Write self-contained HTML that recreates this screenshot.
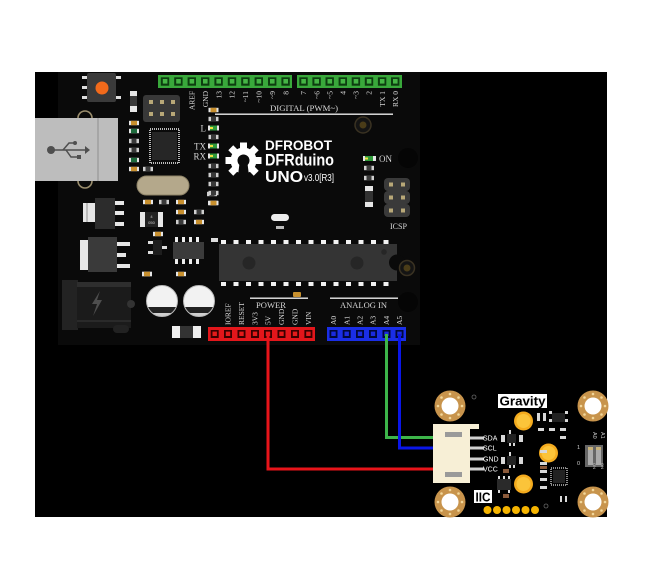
<!DOCTYPE html>
<html><head><meta charset="utf-8">
<style>html,body{margin:0;padding:0;background:#fff}svg{display:block}</style>
</head><body>
<svg width="667" height="587" viewBox="0 0 667 587" xmlns="http://www.w3.org/2000/svg">
<defs>
  <g id="smd"><rect x="-5" y="-2.2" width="10" height="4.4" fill="#cfcfcf"/><rect x="-2.5" y="-2.2" width="5" height="4.4" fill="#3a3a3a"/></g>
  <g id="smdt"><rect x="-5" y="-2.2" width="10" height="4.4" fill="#e6e6e6"/><rect x="-3" y="-2.2" width="6" height="4.4" fill="#c8902e"/></g>
  <g id="smdg"><rect x="-5" y="-2.2" width="10" height="4.4" fill="#e6e6e6"/><rect x="-3" y="-2.2" width="6" height="4.4" fill="#1d6b3c"/></g>
  <g id="gpin"><rect x="-4.2" y="-4.2" width="8.4" height="8.4" fill="#0d3d10"/><rect x="-2.2" y="-2.5" width="4.6" height="4.6" fill="#45b545"/></g>
  <g id="rpin"><rect x="-4" y="-4" width="8" height="8" fill="#3a0000"/><rect x="-2.2" y="-2.4" width="4.4" height="4.4" fill="#e51b1b"/></g>
  <g id="bpin"><rect x="-4" y="-4" width="8" height="8" fill="#00083a"/><rect x="-2.2" y="-2.4" width="4.4" height="4.4" fill="#1a2be0"/></g>
  <g id="hole">
    <circle r="15.5" fill="#c8944c"/>
    <circle r="8.5" fill="#fff"/>
    <circle cx="12" cy="0" r="1.3" fill="#f2d79a"/><circle cx="-12" cy="0" r="1.3" fill="#f2d79a"/>
    <circle cx="0" cy="12" r="1.3" fill="#f2d79a"/><circle cx="0" cy="-12" r="1.3" fill="#f2d79a"/>
    <circle cx="8.5" cy="8.5" r="1.3" fill="#f2d79a"/><circle cx="-8.5" cy="8.5" r="1.3" fill="#f2d79a"/>
    <circle cx="8.5" cy="-8.5" r="1.3" fill="#f2d79a"/><circle cx="-8.5" cy="-8.5" r="1.3" fill="#f2d79a"/>
  </g>
  <g id="led"><circle r="9.5" fill="#f4ab1e"/><circle r="7" fill="#fbc43a"/></g>
  <clipPath id="c1"><circle cx="162" cy="301" r="15.5"/></clipPath>
  <clipPath id="c2"><circle cx="199" cy="301" r="15.5"/></clipPath>
</defs>

<rect width="667" height="587" fill="#fff"/>
<rect x="35" y="72" width="572" height="445" fill="#000"/>

<!-- board -->
<path d="M58 72 H420 V345 H58 Z" fill="#0a0a0a"/>
<circle cx="408" cy="158" r="10" fill="#050505"/>
<circle cx="408" cy="302" r="10" fill="#050505"/>

<!-- green headers -->
<rect x="158" y="75" width="134" height="13" fill="#39a83b"/>
<rect x="297" y="75" width="105" height="13" fill="#39a83b"/>
<g>
<use href="#gpin" x="165" y="81.5"/><use href="#gpin" x="178.4" y="81.5"/><use href="#gpin" x="191.8" y="81.5"/><use href="#gpin" x="205.2" y="81.5"/><use href="#gpin" x="218.6" y="81.5"/><use href="#gpin" x="232" y="81.5"/><use href="#gpin" x="245.4" y="81.5"/><use href="#gpin" x="258.8" y="81.5"/><use href="#gpin" x="272.2" y="81.5"/><use href="#gpin" x="285.6" y="81.5"/>
<use href="#gpin" x="303.5" y="81.5"/><use href="#gpin" x="316.6" y="81.5"/><use href="#gpin" x="329.7" y="81.5"/><use href="#gpin" x="342.8" y="81.5"/><use href="#gpin" x="355.9" y="81.5"/><use href="#gpin" x="369" y="81.5"/><use href="#gpin" x="382.1" y="81.5"/><use href="#gpin" x="395.2" y="81.5"/>
</g>
<g font-family="Liberation Serif, serif" font-size="7.5" fill="#d8d8d8" text-anchor="end">
<text transform="translate(194.5,91) rotate(-90)">AREF</text>
<text transform="translate(207.9,91) rotate(-90)">GND</text>
<text transform="translate(221.3,91) rotate(-90)">13</text>
<text transform="translate(234.7,91) rotate(-90)">12</text>
<text transform="translate(248.1,91) rotate(-90)">~11</text>
<text transform="translate(261.5,91) rotate(-90)">~10</text>
<text transform="translate(274.9,91) rotate(-90)">~9</text>
<text transform="translate(288.3,91) rotate(-90)">8</text>
<text transform="translate(306.2,91) rotate(-90)">7</text>
<text transform="translate(319.3,91) rotate(-90)">~6</text>
<text transform="translate(332.4,91) rotate(-90)">~5</text>
<text transform="translate(345.5,91) rotate(-90)">4</text>
<text transform="translate(358.6,91) rotate(-90)">~3</text>
<text transform="translate(371.7,91) rotate(-90)">2</text>
<text transform="translate(384.8,91) rotate(-90)">TX 1</text>
<text transform="translate(397.9,91) rotate(-90)">RX 0</text>
</g>
<rect x="215" y="113.5" width="178" height="1.4" fill="#e8e8e8"/>
<text x="270" y="111" font-family="Liberation Serif, serif" font-size="8.5" fill="#d8d8d8" textLength="68" lengthAdjust="spacingAndGlyphs">DIGITAL (PWM~)</text>

<!-- reset button -->
<rect x="82" y="76" width="5" height="3" fill="#ddd"/><rect x="82" y="86" width="5" height="3" fill="#ddd"/><rect x="82" y="96" width="5" height="3" fill="#ddd"/>
<rect x="116" y="76" width="5" height="3" fill="#ddd"/><rect x="116" y="96" width="5" height="3" fill="#ddd"/>
<rect x="87" y="73" width="29" height="29" rx="2" fill="#3a3a3a"/>
<circle cx="102" cy="88" r="6.5" fill="#f26a1b"/>

<!-- USB -->
<circle cx="85" cy="118" r="7" fill="none" stroke="#9c8f6e" stroke-width="1.6"/>
<circle cx="85" cy="181" r="7" fill="none" stroke="#9c8f6e" stroke-width="1.6"/>
<rect x="35" y="118" width="83" height="63" fill="#bdbdbd"/>
<rect x="97.5" y="118" width="1" height="63" fill="#8f8f8f"/>
<g stroke="#4f4f4f" stroke-width="1.5" fill="none">
  <path d="M52 150 H86"/><path d="M63 150 L69 143 H74"/><path d="M66 150 L71 157 H78"/>
</g>
<circle cx="51" cy="150" r="4" fill="#4f4f4f"/>
<circle cx="75" cy="143" r="2" fill="#4f4f4f"/>
<rect x="77" y="155" width="4" height="4" fill="#4f4f4f"/>
<path d="M85 146 L90 150 L85 154 Z" fill="#4f4f4f"/>

<!-- small column left of header -->
<rect x="130" y="91" width="7" height="21" fill="#e8e8e8"/><rect x="130" y="96" width="7" height="10" fill="#3a3a3a"/>
<use href="#smdt" x="134" y="123"/><use href="#smdg" x="134" y="131"/><use href="#smd" x="134" y="141"/><use href="#smd" x="134" y="150"/><use href="#smdg" x="134" y="160"/><use href="#smdt" x="134" y="169"/><use href="#smd" x="148" y="169"/>

<!-- 2x3 header -->
<rect x="143" y="95" width="37" height="27" rx="3" fill="#383838"/>
<g fill="#b8a878"><rect x="149" y="100" width="4" height="4"/><rect x="160" y="100" width="4" height="4"/><rect x="171" y="100" width="4" height="4"/><rect x="149" y="112" width="4" height="4"/><rect x="160" y="112" width="4" height="4"/><rect x="171" y="112" width="4" height="4"/></g>

<!-- 16U2 chip -->
<rect x="150" y="129" width="29" height="34" fill="none" stroke="#bbb" stroke-width="2" stroke-dasharray="1 1"/>
<rect x="152" y="132" width="25" height="28" fill="#262626"/>

<!-- crystal -->
<rect x="137" y="176" width="52" height="19" rx="9.5" fill="#b4a88b" stroke="#8e8367" stroke-width="1"/>

<!-- mid SMDs -->
<use href="#smdt" x="148" y="202"/><use href="#smd" x="164" y="202"/><use href="#smdt" x="181" y="202"/>
<use href="#smdt" x="181" y="212"/><use href="#smd" x="199" y="212"/><use href="#smd" x="181" y="222"/><use href="#smdt" x="199" y="222"/>
<use href="#smd" x="212" y="194"/><use href="#smdt" x="213" y="203"/>
<rect x="140" y="212" width="23" height="15" fill="#e8e8e8"/><rect x="145" y="212" width="13" height="15" fill="#222"/>
<text x="151.5" y="218" font-family="Liberation Sans, sans-serif" font-size="4" fill="#ccc" text-anchor="middle">4</text>
<text x="151.5" y="224" font-family="Liberation Sans, sans-serif" font-size="4" fill="#ccc" text-anchor="middle">050</text>
<use href="#smdt" x="158" y="234"/>
<rect x="148" y="241" width="5" height="3" fill="#ddd"/><rect x="148" y="251" width="5" height="3" fill="#ddd"/><rect x="162" y="246" width="5" height="3" fill="#ddd"/>
<rect x="153" y="240" width="9" height="15" fill="#1e1e1e"/>
<g fill="#eee"><rect x="175" y="237" width="3" height="5"/><rect x="182" y="237" width="3" height="5"/><rect x="189" y="237" width="3" height="5"/><rect x="196" y="237" width="3" height="5"/>
<rect x="175" y="259" width="3" height="5"/><rect x="182" y="259" width="3" height="5"/><rect x="189" y="259" width="3" height="5"/><rect x="196" y="259" width="3" height="5"/></g>
<rect x="173" y="242" width="31" height="17" fill="#3b3b3b"/>
<use href="#smdt" x="147" y="274"/><use href="#smdt" x="181" y="274"/>
<rect x="211" y="238" width="7" height="4" fill="#ddd"/>

<!-- regulators -->
<rect x="83" y="203" width="12" height="19" fill="#e6e6e6"/><rect x="86" y="203" width="2" height="19" fill="#bbb"/>
<rect x="95" y="198" width="20" height="31" fill="#2c2c2c"/>
<rect x="115" y="201" width="9" height="4" fill="#e6e6e6"/><rect x="115" y="211" width="9" height="4" fill="#e6e6e6"/><rect x="115" y="222" width="9" height="4" fill="#e6e6e6"/>
<rect x="80" y="240" width="8" height="30" fill="#e6e6e6"/>
<rect x="88" y="237" width="29" height="35" fill="#3a3a3a"/>
<rect x="117" y="242" width="13" height="4" fill="#e6e6e6"/><rect x="117" y="253" width="9" height="4" fill="#e6e6e6"/><rect x="117" y="264" width="13" height="4" fill="#e6e6e6"/>

<!-- DC jack -->
<rect x="62" y="280" width="16" height="50" fill="#232323"/>
<rect x="77" y="282" width="54" height="46" fill="#1b1b1b"/>
<rect x="77" y="282" width="54" height="5" fill="#2e2e2e"/>
<rect x="77" y="320" width="54" height="2" fill="#2a2a2a"/>
<circle cx="131" cy="304" r="4" fill="#333"/>
<path d="M100 291 L92 304 H97 L93 316 L102 300 H97 Z" fill="#4e4e4e"/>
<rect x="113" y="325" width="16" height="8" rx="4" fill="#222"/>

<!-- capacitors -->
<g clip-path="url(#c1)"><rect x="140" y="280" width="45" height="45" fill="#f2f2f2"/><rect x="140" y="307" width="45" height="6" fill="#222"/><rect x="140" y="313" width="45" height="6" fill="#cfcfcf"/></g>
<circle cx="162" cy="301" r="15.5" fill="none" stroke="#bbb" stroke-width="1"/>
<g clip-path="url(#c2)"><rect x="177" y="280" width="45" height="45" fill="#f2f2f2"/><rect x="177" y="307" width="45" height="6" fill="#222"/><rect x="177" y="313" width="45" height="6" fill="#cfcfcf"/></g>
<circle cx="199" cy="301" r="15.5" fill="none" stroke="#bbb" stroke-width="1"/>
<use href="#smdt" x="147" y="274"/>

<!-- diode -->
<rect x="172" y="326" width="29" height="12" fill="#eee"/><rect x="180" y="326" width="13" height="12" fill="#333"/>

<!-- DFROBOT logo -->
<g fill="#fff" transform="translate(243.5,160.5)">
  <circle r="13"/>
  <rect x="-3.5" y="-18" width="7" height="8"/>
  <rect x="-3.5" y="-18" width="7" height="8" transform="rotate(45)"/>
  <rect x="-3.5" y="-18" width="7" height="8" transform="rotate(90)"/>
  <rect x="-3.5" y="-18" width="7" height="8" transform="rotate(135)"/>
  <rect x="-3.5" y="-18" width="7" height="8" transform="rotate(225)"/>
  <rect x="-3.5" y="-18" width="7" height="8" transform="rotate(270)"/>
  <rect x="-3.5" y="-18" width="7" height="8" transform="rotate(315)"/>
  <circle r="6" fill="#0a0a0a"/>
  <path d="M-4 3 L-6 19 H6 L4 3 Z" fill="#0a0a0a"/>
</g>
<g font-family="Liberation Sans, sans-serif" font-weight="bold" fill="#fff">
<text x="265" y="150" font-size="14" textLength="67" lengthAdjust="spacingAndGlyphs">DFROBOT</text>
<text x="265" y="165.5" font-size="17" textLength="69" lengthAdjust="spacingAndGlyphs">DFRduino</text>
<text x="265" y="182" font-size="15.5" textLength="38" lengthAdjust="spacingAndGlyphs">UNO</text>
<text x="304" y="181" font-size="10.5" font-weight="normal" textLength="30" lengthAdjust="spacingAndGlyphs">v3.0[R3]</text>
</g>

<!-- L TX RX column -->
<use href="#smdt" x="213.5" y="110"/><use href="#smd" x="213.5" y="119"/>
<rect x="208" y="125.5" width="11" height="5" fill="#e6e6e6"/><rect x="210" y="125.5" width="7" height="5" fill="#2f9a3a"/><rect x="210" y="127" width="3" height="2" fill="#f0e040"/>
<use href="#smd" x="213.5" y="137"/>
<rect x="208" y="143.5" width="11" height="5" fill="#e6e6e6"/><rect x="210" y="143.5" width="7" height="5" fill="#2f9a3a"/><rect x="210" y="145" width="3" height="2" fill="#f0e040"/>
<rect x="208" y="153.5" width="11" height="5" fill="#e6e6e6"/><rect x="210" y="153.5" width="7" height="5" fill="#2f9a3a"/><rect x="210" y="155" width="3" height="2" fill="#f0e040"/>
<use href="#smd" x="213.5" y="166"/><use href="#smd" x="213.5" y="175"/><use href="#smd" x="213.5" y="184"/><use href="#smd" x="213.5" y="193"/><use href="#smdt" x="213.5" y="203"/>
<g font-family="Liberation Serif, serif" font-size="9" fill="#d8d8d8" text-anchor="end">
<text x="206" y="131.5">L</text><text x="206" y="149.5">TX</text><text x="206" y="159.5">RX</text>
</g>

<!-- hole top right -->
<circle cx="363" cy="125" r="8" fill="#141414" stroke="#3a3222" stroke-width="1.5"/>
<circle cx="363" cy="125" r="3.5" fill="#4a3c18"/>

<!-- ON LED and column -->
<rect x="363" y="156" width="13" height="5" fill="#e6e6e6"/><rect x="365" y="156" width="8" height="5" fill="#2f9a3a"/><rect x="365" y="157.5" width="3" height="2" fill="#f0e040"/>
<text x="379" y="162" font-family="Liberation Serif, serif" font-size="9" fill="#d8d8d8">ON</text>
<use href="#smd" x="369" y="168"/><use href="#smd" x="369" y="178"/>
<rect x="365" y="186" width="8" height="21" fill="#e6e6e6"/><rect x="365" y="191" width="8" height="11" fill="#333"/>

<!-- ICSP -->
<rect x="384" y="178" width="26" height="13" rx="4" fill="#3a3a3a"/>
<rect x="384" y="191" width="26" height="13" rx="4" fill="#3a3a3a"/>
<rect x="384" y="204" width="26" height="13" rx="4" fill="#3a3a3a"/>
<g fill="#b8a878"><rect x="389" y="182.5" width="4" height="4"/><rect x="401" y="182.5" width="4" height="4"/><rect x="389" y="195.5" width="4" height="4"/><rect x="401" y="195.5" width="4" height="4"/><rect x="389" y="208.5" width="4" height="4"/><rect x="401" y="208.5" width="4" height="4"/></g>
<text x="390" y="229" font-family="Liberation Serif, serif" font-size="8.5" fill="#d8d8d8" textLength="17" lengthAdjust="spacingAndGlyphs">ICSP</text>

<!-- small white comp -->
<rect x="271" y="214" width="18" height="7" rx="3.5" fill="#eee"/>
<rect x="276" y="226" width="8" height="3" fill="#bbb"/>

<!-- main chip -->
<g fill="#f2f2f2">
<rect x="221" y="240" width="5" height="4"/><rect x="233.5" y="240" width="5" height="4"/><rect x="246" y="240" width="5" height="4"/><rect x="258.5" y="240" width="5" height="4"/><rect x="271" y="240" width="5" height="4"/><rect x="283.5" y="240" width="5" height="4"/><rect x="296" y="240" width="5" height="4"/><rect x="308.5" y="240" width="5" height="4"/><rect x="321" y="240" width="5" height="4"/><rect x="333.5" y="240" width="5" height="4"/><rect x="346" y="240" width="5" height="4"/><rect x="358.5" y="240" width="5" height="4"/><rect x="371" y="240" width="5" height="4"/><rect x="383.5" y="240" width="5" height="4"/>
<rect x="221" y="282" width="5" height="4"/><rect x="233.5" y="282" width="5" height="4"/><rect x="246" y="282" width="5" height="4"/><rect x="258.5" y="282" width="5" height="4"/><rect x="271" y="282" width="5" height="4"/><rect x="283.5" y="282" width="5" height="4"/><rect x="296" y="282" width="5" height="4"/><rect x="308.5" y="282" width="5" height="4"/><rect x="321" y="282" width="5" height="4"/><rect x="333.5" y="282" width="5" height="4"/><rect x="346" y="282" width="5" height="4"/><rect x="358.5" y="282" width="5" height="4"/><rect x="371" y="282" width="5" height="4"/><rect x="383.5" y="282" width="5" height="4"/>
</g>
<rect x="219" y="244" width="178" height="37" fill="#343434"/>
<circle cx="397" cy="262.5" r="8" fill="#0a0a0a"/>
<circle cx="249" cy="263" r="6.5" fill="#262626"/>
<circle cx="357" cy="263" r="6.5" fill="#262626"/>
<circle cx="384" cy="252" r="2.8" fill="#262626"/>
<circle cx="407" cy="268" r="7.5" fill="#141414" stroke="#3a3222" stroke-width="1.5"/>
<circle cx="407" cy="268" r="3.5" fill="#4a3c18"/>

<!-- power / analog labels -->
<rect x="250" y="297.5" width="58" height="1.4" fill="#e8e8e8"/>
<rect x="330" y="297.5" width="68" height="1.4" fill="#e8e8e8"/>
<rect x="293" y="292" width="8" height="5" rx="1" fill="#c8902e"/>
<g font-family="Liberation Serif, serif" font-size="8.5" fill="#d8d8d8">
<text x="256" y="308" textLength="30" lengthAdjust="spacingAndGlyphs">POWER</text>
<text x="340" y="308" textLength="47" lengthAdjust="spacingAndGlyphs">ANALOG IN</text>
</g>
<g font-family="Liberation Serif, serif" font-size="7.5" fill="#d8d8d8">
<text transform="translate(230.7,325) rotate(-90)">IOREF</text>
<text transform="translate(244.2,325) rotate(-90)">RESET</text>
<text transform="translate(257.7,325) rotate(-90)">3V3</text>
<text transform="translate(270.7,325) rotate(-90)">5V</text>
<text transform="translate(284.2,325) rotate(-90)">GND</text>
<text transform="translate(297.7,325) rotate(-90)">GND</text>
<text transform="translate(311,325) rotate(-90)">VIN</text>
<text transform="translate(336.2,325) rotate(-90)">A0</text>
<text transform="translate(349.4,325) rotate(-90)">A1</text>
<text transform="translate(362.7,325) rotate(-90)">A2</text>
<text transform="translate(375.7,325) rotate(-90)">A3</text>
<text transform="translate(389.2,325) rotate(-90)">A4</text>
<text transform="translate(402.2,325) rotate(-90)">A5</text>
</g>

<!-- red header -->
<rect x="208" y="327" width="107" height="14" fill="#e3161b"/>
<use href="#rpin" x="214.7" y="334"/><use href="#rpin" x="228" y="334"/><use href="#rpin" x="241.5" y="334"/><use href="#rpin" x="255" y="334"/><use href="#rpin" x="268" y="334"/><use href="#rpin" x="281.5" y="334"/><use href="#rpin" x="295" y="334"/><use href="#rpin" x="308.4" y="334"/>
<!-- blue header -->
<rect x="327" y="327" width="79" height="14" fill="#1a2ee6"/>
<use href="#bpin" x="333.5" y="334"/><use href="#bpin" x="346.7" y="334"/><use href="#bpin" x="360" y="334"/><use href="#bpin" x="373" y="334"/><use href="#bpin" x="386.5" y="334"/><use href="#bpin" x="399.5" y="334"/>

<!-- wires -->
<g fill="none" stroke-width="3" stroke-linejoin="miter">
<path d="M268 334 V469 H434" stroke="#e8141a"/>
<path d="M386.5 334 V437.5 H434" stroke="#3db54a"/>
<path d="M399.5 334 V448 H434" stroke="#0a16e8"/>
</g>

<!-- sensor -->
<use href="#hole" x="450" y="406"/>
<use href="#hole" x="593" y="406"/>
<use href="#hole" x="450" y="502"/>
<use href="#hole" x="593" y="502"/>
<circle cx="474" cy="397" r="2" fill="none" stroke="#666" stroke-width="0.8"/>
<circle cx="546" cy="506" r="2" fill="none" stroke="#666" stroke-width="0.8"/>

<rect x="433" y="425" width="37" height="58" fill="#f7efd6"/>
<rect x="433" y="424" width="46" height="5" fill="#f7efd6"/>
<rect x="445" y="432" width="17" height="5" fill="#9a9a9a"/>
<rect x="445" y="472" width="17" height="5" fill="#9a9a9a"/>
<g fill="#d0d0d0">
<rect x="470" y="436.5" width="14" height="3"/><rect x="470" y="446.5" width="14" height="3"/><rect x="470" y="457.5" width="14" height="3"/><rect x="470" y="467.5" width="14" height="3"/>
</g>
<g font-family="Liberation Sans, sans-serif" font-size="7" fill="#fff">
<text x="483" y="440.5">SDA</text><text x="483" y="450.5">SCL</text><text x="483" y="461.5">GND</text><text x="483" y="471.5">VCC</text>
</g>

<rect x="498" y="394" width="49" height="14" fill="#fff"/>
<text x="522.5" y="405.5" font-family="Liberation Sans, sans-serif" font-weight="bold" font-size="12.5" fill="#000" text-anchor="middle" textLength="46" lengthAdjust="spacingAndGlyphs">Gravity</text>
<rect x="474" y="490" width="18" height="13" fill="#fff"/>
<text x="483" y="501.5" font-family="Liberation Sans, sans-serif" font-weight="bold" font-size="12.5" fill="#000" text-anchor="middle" textLength="15" lengthAdjust="spacingAndGlyphs">IIC</text>

<use href="#led" x="523.5" y="421"/>
<use href="#led" x="548.5" y="453"/>
<use href="#led" x="523.5" y="484"/>

<g fill="#f5b400">
<circle cx="487.5" cy="510" r="4"/><circle cx="497" cy="510" r="4"/><circle cx="506.5" cy="510" r="4"/><circle cx="516" cy="510" r="4"/><circle cx="525.5" cy="510" r="4"/><circle cx="535" cy="510" r="4"/>
</g>

<!-- sensor small components -->
<g fill="#d8d8d8">
<rect x="509" y="430" width="2" height="4"/><rect x="509" y="442" width="2" height="4"/><rect x="513" y="442" width="2" height="4"/>
<rect x="509" y="452" width="2" height="4"/><rect x="509" y="464" width="2" height="4"/><rect x="513" y="464" width="2" height="4"/>
<rect x="501" y="435" width="4" height="7" /><rect x="519" y="435" width="4" height="7"/>
<rect x="501" y="457" width="4" height="7" /><rect x="519" y="457" width="4" height="7"/>
<rect x="537" y="413" width="3" height="8"/><rect x="543" y="413" width="3" height="8"/>
<rect x="549" y="411" width="3" height="3"/><rect x="549" y="419" width="3" height="3"/><rect x="565" y="411" width="3" height="3"/><rect x="565" y="419" width="3" height="3"/>
<rect x="538" y="428" width="6" height="3"/><rect x="549" y="428" width="6" height="3"/><rect x="560" y="428" width="6" height="3"/>
<rect x="560" y="436" width="6" height="3"/>
<rect x="498" y="476" width="2" height="3"/><rect x="503" y="476" width="2" height="3"/><rect x="508" y="476" width="2" height="3"/>
<rect x="498" y="490" width="2" height="3"/><rect x="508" y="490" width="2" height="3"/>
<rect x="540" y="450" width="7" height="3"/><rect x="540" y="462" width="7" height="3"/><rect x="540" y="470" width="7" height="3"/><rect x="540" y="478" width="7" height="3"/>
<rect x="540" y="486" width="7" height="3"/>
<rect x="560" y="496" width="2" height="6"/><rect x="565" y="496" width="2" height="6"/>
</g>
<rect x="507" y="434" width="9" height="9" fill="#222"/>
<rect x="507" y="456" width="9" height="9" fill="#222"/>
<rect x="552" y="413" width="13" height="9" fill="#222"/>
<rect x="497" y="479" width="14" height="11" fill="#2a2a2a"/>
<rect x="503" y="469" width="6" height="4" fill="#8b5a3a"/>
<rect x="503" y="494" width="6" height="4" fill="#8b5a3a"/>
<rect x="540" y="466" width="7" height="3" fill="#8b5a3a"/>
<rect x="551" y="468" width="16" height="17" fill="none" stroke="#bbb" stroke-width="1.5" stroke-dasharray="1 1"/>
<rect x="553" y="470" width="12" height="13" fill="#222"/>

<!-- DIP switch -->
<rect x="585" y="445" width="18" height="22" fill="#666"/>
<rect x="588" y="447" width="5" height="18" fill="#aaa"/><rect x="596" y="447" width="5" height="18" fill="#aaa"/>
<rect x="588" y="447" width="5" height="3" fill="#c9b27a"/><rect x="596" y="447" width="5" height="3" fill="#c9b27a"/>
<g font-family="Liberation Sans, sans-serif" font-size="5.5" fill="#ccc">
<text x="577" y="449">1</text><text x="577" y="465">0</text>
<text transform="translate(593,432) rotate(90)">A0</text>
<text transform="translate(601,432) rotate(90)">A1</text>
<text transform="translate(593,463) rotate(90)" font-size="4">ON</text>
<text transform="translate(601,463) rotate(90)" font-size="4">ON</text>
</g>
</svg>
</body></html>
